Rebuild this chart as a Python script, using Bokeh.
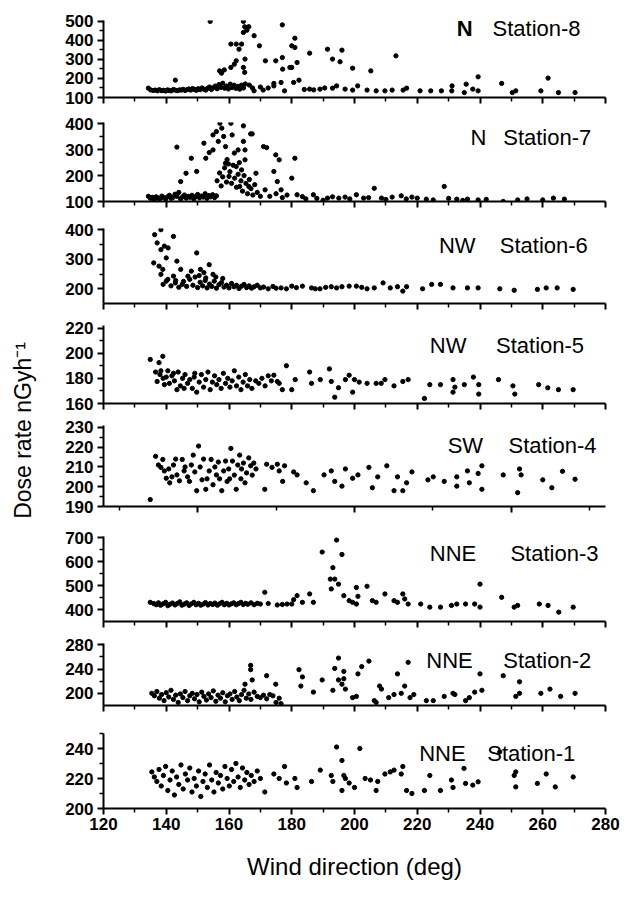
import math
from bokeh.plotting import figure
from bokeh.layouts import column, row
from bokeh.models import Range1d, Label, FixedTicker
from bokeh.embed import file_html
from bokeh.resources import INLINE

# ---------------- data (wind direction deg, dose rate nGy/h) ----------------
station8 = [(134.3,149),(135,140),(135.8,137),(136.5,139),(137.2,135),(137.8,141),(138.5,136),(139.1,138),(139.8,134),(140.4,140),
            (141,137),(141.6,135),(142.3,142),(142.9,191),(143,138),(143.6,136),(144.2,140),(144.8,139),(145.4,143),(146,137),
            (146.6,141),(147.2,145),(147.8,139),(148.4,147),(149,142),(149.6,138),(150.2,146),(150.8,141),(151.4,150),(152,144),
            (152.6,139),(153.2,148),(153.8,155),(154.4,142),(155,151),(155.6,160),(156.2,146),(156.8,168),(157.4,153),(158,175),
            (158.6,149),(159.2,160),(159.8,145),(160.4,170),(161,152),(161.6,165),(162.2,148),(162.8,158),(163.4,144),(164,165),
            (164.6,150),(165.2,171),(154,500),(157,240),(157.6,228),(158.5,245),(160.6,258),(161.7,275),(162.3,293),(160.6,381),
            (162.3,381),(164,381),(163.2,354),(164.6,500),(165,472),(165.7,454),(166.3,472),(164.6,442),(168,425),(165.1,302),
            (164.6,258),(165,232),(169.7,372),(171.6,293),(174.9,293),(177,310),(177.1,249),(177,482),(177.7,135),(176.6,179),
            (174.3,174),(180,372),(181,363),(181,412),(181.7,284),(180,258),(179.4,258),(182.3,191),(180.6,179),(185.7,333),
            (191.4,354),(196,349),(193,302),(195.4,288),(199.4,254),(205.2,240),(213.2,319),(168,135),(170.9,139),(174.3,161),
            (172.5,150),(185.7,144),(189,144),(193,149),(194.3,161),(197,144),(199.4,139),(201,161),(204,139),(206.9,135),
            (209.7,135),(212,139),(215.5,139),(216.6,149),(220.9,135),(224.3,135),(227.7,135),(231.1,161),(231,135),(235.6,170),
            (235,126),(237.7,144),(239.4,135),(239.4,209),(246.9,174),(250.3,126),(251.4,135),(259.4,135),(261.7,202),(265,126),
            (270.3,126),(166.5,165),(167.5,150),(170,155),(184,142),(187,140),(190.5,150)]

station7 = [(134.3,120),(135,112),(135.6,116),(136.2,108),(136.8,118),(137.4,113),(138,110),(138.6,121),(139.2,115),(139.8,109),
            (140.4,118),(141,124),(141.6,112),(142.2,116),(142.8,128),(143.4,120),(144,135),(144.6,110),(145.2,118),(145.8,125),
            (146.4,113),(147,120),(147.6,116),(148.2,124),(148.8,110),(149.4,119),(150,127),(150.6,114),(151.2,121),(151.8,117),
            (152.4,130),(153,112),(153.6,123),(154.2,118),(154.8,126),(155.4,115),(156,122),(143.4,310),(144.6,177),(146.3,209),
            (148,267),(149.7,216),(152,325),(152.6,267),(153.7,289),(154.9,357),(154.9,299),(156,370),(156.6,332),(157.1,402),
            (157.7,383),(158.3,351),(158.9,312),(158.9,248),(159.4,262),(160,197),(160.6,402),(161,357),(161.7,287),(162.3,235),
            (162.9,299),(163.4,158),(164,222),(164.6,332),(165.1,261),(164.6,392),(166.9,361),(167.4,361),(165.1,299),(166.3,158),
            (168.6,209),(171,312),(172,308),(174.9,280),(176,261),(174.3,216),(175.4,177),(176.6,145),(180,190),(181,267),
            (156.2,180),(157,210),(157.5,160),(158,195),(158.6,230),(159.2,175),(159.8,245),(160.3,215),(160.8,170),(161.3,240),
            (161.8,190),(162.4,155),(162.9,205),(163.3,250),(163.8,180),(164.3,140),(164.8,200),(165.4,170),(165.9,130),(166.5,185),
            (167,150),(167.6,125),(168.2,165),(169,135),(170,120),(171.5,145),(173,120),(175,130),(177,115),(178.5,125),
            (181.7,126),(183.4,119),(186.9,126),(191.4,113),(195,113),(197,117),(200.6,126),(202.9,113),(206.3,151),(208.6,113),
            (212,117),(214.9,122),(218.3,117),(222.9,109),(225.1,106),(228.6,158),(232.6,109),(236,109),(239.4,106),(247.4,100),
            (252,106),(260,106),(263.4,113),(266.9,109),(184.5,110),(188,112),(190,105),(193,118),(198.5,110),(204.5,115),
            (210,108),(216.5,110),(220,113),(230,112),(234.5,104),(242,108),(255,110)]

station6 = [(136.3,384),(138.3,401),(137.1,356),(138.3,333),(139.4,345),(140.6,339),(140,305),(142.3,378),(136,288),(137.7,277),
            (138.9,266),(138.3,249),(140,226),(142.3,243),(143.4,294),(142.9,220),(144.6,266),(145.1,215),(146.9,243),(148,260),
            (149.7,322),(150.9,266),(153.7,282),(152.6,237),(154.9,249),(139,215),(140.5,232),(141.5,210),(143,228),(144,205),
            (145.5,225),(146.5,208),(147.5,232),(148.5,212),(149.2,240),(150,204),(150.8,222),(151.6,210),(152.4,228),(153,203),
            (153.8,216),(154.5,208),(155.3,226),(156,202),(156.8,214),(157.6,221),(158.4,206),(159.2,212),(160,203),(160.8,218),
            (161.6,207),(162.4,212),(163.2,201),(164,209),(164.8,215),(165.6,204),(166.4,210),(167.2,202),(168,207),(169,212),
            (170,203),(171,206),(172.5,200),(174,208),(175,202),(150.5,245),(152,255),(155.8,240),(158,235),(176.6,203),
            (178.3,200),(180,209),(181.5,204),(183.4,209),(186.3,203),(187.5,200),(189,200),(190.8,205),(192.6,207),(194.3,203),
            (196,207),(198.3,209),(200.6,209),(202.3,205),(204,200),(206.3,203),(209.1,220),(211.4,203),(213.7,207),(215.4,192),
            (216.6,207),(221.7,200),(224.6,215),(227.4,215),(231.4,203),(236,203),(239.4,203),(246.3,200),(250.9,195),(258.3,198),
            (261.1,203),(264.6,203),(269.7,198)]

station5 = [(134.9,195),(138.9,197.5),(137.7,192.5),(136.6,185),(138.3,186),(137.1,177.5),(139.4,175),(140,181),(142.3,184),(143.4,171),
            (145.7,172),(149.1,184),(149.7,169),(138,183),(139,180),(140.5,186),(141,176),(141.8,182),(142.6,178),(143.8,185),
            (144.5,174),(145.2,180),(146,183),(146.8,176),(147.5,179),(148.3,172),(148.9,181),(150.5,177),(151.2,183),(151.9,173),
            (152.6,179),(153.3,185),(154,171),(154.7,177),(155.4,182),(156.1,175),(156.8,179),(157.5,172),(158.2,184),(158.9,176),
            (159.6,180),(160.3,173),(161,178),(161.7,186),(162.4,174),(163.1,181),(163.8,171),(164.5,177),(165.2,183),(165.9,174),
            (166.6,179),(167.3,172),(168.5,178),(169.5,176),(170.5,180),(171.5,174),(172.5,182),(173.5,178),(176,176),(177,171),
            (178.3,190),(174.3,182.5),(175.4,177.5),(180,171),(181.1,179),(185.7,185),(186.3,176),(189.1,179),(192,187.5),(192.6,177.5),
            (193.7,165),(194.9,172.5),(197.1,179),(198.3,182.5),(199.4,169),(200,179),(201.5,177),(204,176),(206.9,176),(208.5,176),
            (209.7,179),(212.6,174),(215.4,177.5),(217.1,179),(222.3,164),(224,175),(227.4,175),(231.4,179),(231.4,169),(232,173),
            (235,175),(237.9,181),(239.6,175),(239.6,167.5),(245.9,179),(250.5,174),(251.1,167.5),(258.7,175),(261.6,172.5),(265,171),
            (269.7,171)]

station4 = [(134.9,193.5),(136.6,215.4),(138.9,213.8),(138.3,209.8),(139.4,208),(140,204.3),(141.1,202),(142.3,211),(143.4,206),(145.1,213.8),
            (145.7,208),(147.4,202.7),(148.6,216),(149.1,207.5),(149.7,198),(150.3,220.6),(151.4,203.5),(152.6,198.7),(153.7,208),(154.3,213.8),
            (154.9,201),(156,206),(156.6,212.5),(157.7,198),(158.3,208),(159.4,202.7),(160.6,219.4),(161.1,213),(161.7,205.9),(162.3,198.7),
            (163.4,216),(164,209),(165.1,202),(166.3,214.6),(166.9,210.6),(167.4,205.9),(168.6,209),(137.5,211),(140.8,209),(141.8,205),
            (143,214),(144.2,203),(146,210),(146.8,205),(148,211),(150.8,210),(151.9,214),(153,204),(155.5,210),(157,204),
            (158.9,213),(159.9,209),(160.2,204),(162.8,211),(163.8,204),(164.6,212),(165.6,207),(167.9,212),(171.4,198.7),(172,211.4),
            (173.7,209.8),(175.4,211.4),(176,208),(177.1,202.7),(177.7,210.6),(180.6,207.5),(181.7,206),(184.6,202),(186.9,198),(190.3,206),
            (192.6,208),(193.7,202.7),(196,200.3),(197.1,209),(199.4,204.3),(201.1,206),(204.6,209.8),(205.7,199.5),(207.4,205),(210.3,210.6),
            (212.6,198),(213.7,205),(215.4,198),(216.6,202),(218.3,207.5),(223.4,203.5),(225.1,205),(228.6,202.7),(232.6,200.3),(232.6,205),
            (236,208),(236.6,202),(239.4,206.7),(240.6,198.7),(240.6,210.6),(247.4,206),(252,197),(252.6,209),(253.1,206),(260,203.5),
            (262.9,199.5),(266.3,207.8),(270.3,203.8)]

station3 = [(134.9,430),(136,425),(136.8,420),(137.5,428),(138.2,418),(139,424),(139.8,430),(140.5,416),(141.2,422),(142,427),
            (142.8,419),(143.5,425),(144.3,432),(145,418),(145.8,423),(146.5,428),(147.3,417),(148,424),(148.8,430),(149.5,420),
            (150.3,426),(151,418),(151.8,423),(152.5,429),(153.3,419),(154,425),(154.8,421),(155.5,427),(156.3,418),(157,424),
            (157.8,430),(158.5,420),(159.3,426),(160,419),(160.8,424),(161.5,428),(162.3,420),(163,425),(163.8,430),(164.5,421),
            (165.3,426),(166,422),(167,428),(168,420),(169,426),(170,423),(171.4,472),(172.5,425),(175.4,419),(177,421),
            (178.5,423),(180,423),(180.6,441),(181.7,458),(183.4,430),(185.7,465),(186.9,430),(189.7,640),(192.6,486),(192.3,527),
            (193.1,575),(193.7,527),(194.3,690),(194.9,506),(196,630),(196.6,458),(198.3,437),(199.4,430),(200.6,492),(201.1,455),
            (200.6,423),(204,497),(205.7,437),(206.9,430),(209.7,465),(212.6,437),(213.7,430),(215.4,465),(216,444),(217.1,423),
            (221.1,423),(224,410),(227.4,410),(230.9,417),(232.6,423),(235.4,423),(238.3,423),(240,506),(240,410),(246.9,451),
            (250.9,410),(252,417),(258.9,423),(261.7,417),(265.1,389),(269.7,410)]

station2 = [(135.4,200),(136.2,196),(137,203),(137.8,192),(138.5,198),(139.3,188),(140,201),(140.8,194),(141.5,205),(142.3,190),
            (143,197),(143.8,185),(144.5,199),(145.3,193),(146,203),(146.8,188),(147.5,196),(148.3,200),(149,191),(149.8,198),
            (150.5,186),(151.3,202),(152,195),(152.8,189),(153.5,199),(154.3,193),(155,204),(155.8,187),(156.5,197),(157.3,192),
            (158,201),(158.8,186),(159.5,196),(160.3,199),(161,190),(161.8,203),(162.5,194),(163.3,188),(164,198),(164.8,205),
            (165.5,192),(166.3,199),(167,190),(168,202),(169,195),(170,193),(171,197),(172,191),(173,198),(174,196),
            (175,185),(176,192),(166.9,246),(166.9,239),(167.4,222),(165.1,215),(172,229),(174.9,215),(176.6,183),(182.3,239),
            (183.4,227),(182.9,212),(186.9,202),(189.7,222),(193.1,205),(193.7,241),(194.9,222),(194.9,258),(196,215),(196.6,236),
            (196.6,224),(197.1,207),(199.4,193),(200.6,195),(201.1,232),(202.3,244),(204.6,253),(206.3,188),(206.9,185),(208,212),
            (208.6,207),(210.9,193),(212.6,198),(213.7,232),(214.9,200),(216,212),(217.1,251),(217.7,193),(218.9,198),(222.9,188),
            (225.1,188),(228.6,195),(231.4,200),(232,198),(235.4,188),(236.6,193),(238.3,202),(240,232),(240.6,205),(247.4,229),
            (251.4,195),(252.6,200),(252.6,219),(259.4,200),(262.3,207),(265.7,195),(270.3,200)]

station1 = [(135.4,224.4),(136.2,221),(137,218),(137.7,226),(138.4,215),(139.1,222),(139.8,228),(140.5,212),(141.2,219),(141.9,225),
            (142.6,209),(143.3,221),(144,216),(144.7,229),(145.4,213),(146.1,223),(146.8,219),(147.5,227),(148.2,211),(148.9,220),
            (149.6,215),(150.3,225),(151,208),(151.7,218),(152.4,223),(153.1,214),(153.8,229),(154.5,219),(155.2,211),(155.9,224),
            (156.6,217),(157.3,222),(158,213),(158.7,228),(159.4,220),(160.1,215),(160.8,226),(161.5,218),(162.2,230),(162.9,221),
            (163.6,214),(164.3,227),(165,219),(165.7,224),(166.4,216),(167.1,222),(168,218),(169,225),(170,220),(171.4,211),
            (174.3,223),(176,220),(177.7,228),(178.3,217),(181.7,214),(181,220),(186.3,218),(189.1,225.6),(192.6,222),(193.1,218),
            (194.3,241),(196,232),(196,212),(196.6,222),(197.1,220),(198.3,217),(200,214),(201.7,240),(203.4,220),(205.1,219),
            (206.9,212),(207.4,218),(209.7,223),(211.4,224.4),(212.6,225.6),(215.4,228),(214.9,223),(216.6,212),(218.3,210),(222.3,212),
            (224,222),(227.4,212),(230.9,219),(231.4,214),(234.9,226.7),(235.4,216.7),(237.7,215.6),(239.4,217.8),(246.3,237.8),(250.9,222),
            (251.4,224.4),(251.4,214.4),(258.3,216.7),(261.1,223),(264,214.4),(269.7,221)]

station_names = ["Station-8", "Station-7", "Station-6", "Station-5", "Station-4", "Station-3", "Station-2", "Station-1"]
directions = ["N", "N", "NW", "NW", "SW", "NNE", "NNE", "NNE"]
y_ticks = [[100, 200, 300, 400, 500], [100, 200, 300, 400], [200, 300, 400], [160, 180, 200, 220],
           [190, 200, 210, 220, 230], [400, 500, 600, 700], [200, 240, 280], [200, 220, 240]]
x_ticks = [120, 140, 160, 180, 200, 220, 240, 260, 280]
x_title = "Wind direction (deg)"
y_title = "Dose rate nGyh\u207b\u00b9"

# ---------------- layout / style ----------------
FONT = "Liberation Sans"
datasets = [station8, station7, station6, station5, station4, station3, station2, station1]
y_ranges = [(100, 505), (100, 405), (150, 405), (160, 222), (190, 231), (350, 705), (180, 282), (200, 250)]
y_minor = [[150, 250, 350, 450], [150, 250, 350], [250, 350], [170, 190, 210],
           [195, 205, 215, 225], [450, 550, 650], [220, 260], [210, 230, 250]]
frame_h = [77, 79, 75, 78, 81, 85, 62, 75]
tops = [20, 12, 13, 11, 11, 15, 11, 14]
bottoms = [13, 14, 11, 11, 15, 11, 14, 89]
label_y = [463, 347, 347, 206, 220.9, 634, 254, 237]
dir_x = [232.6, 237, 226.9, 224, 229.7, 224, 222.9, 220.6]
st_x = [244, 247.4, 246.3, 245.1, 249.1, 249.7, 247.4, 242.3]

LABW = 40
FRAME_W = 502
LEFT = 63
RIGHT = 31

figs = []
n = len(datasets)
for i in range(n):
    last = (i == n - 1)
    p = figure(frame_width=FRAME_W, frame_height=frame_h[i],
               x_range=Range1d(120, 280), y_range=Range1d(*y_ranges[i]),
               toolbar_location=None, output_backend="svg",
               min_border_left=LEFT, min_border_right=RIGHT,
               min_border_top=tops[i], min_border_bottom=bottoms[i])
    p.outline_line_color = None
    p.grid.visible = False
    p.background_fill_color = "white"
    p.border_fill_color = "white"

    xs = [d[0] for d in datasets[i]]
    ys = [d[1] for d in datasets[i]]
    p.scatter(xs, ys, marker="circle", size=4.3, color="black")

    if i == 4:
        xt = FixedTicker(ticks=[150, 200, 250], minor_ticks=[125, 175, 225, 275])
    else:
        xt = FixedTicker(ticks=x_ticks, minor_ticks=[130, 150, 170, 190, 210, 230, 250, 270])
    p.xaxis.ticker = xt
    p.yaxis.ticker = FixedTicker(ticks=y_ticks[i], minor_ticks=y_minor[i])

    for ax in (p.xaxis[0], p.yaxis[0]):
        ax.axis_line_width = 2
        ax.axis_line_color = "black"
        ax.major_tick_line_width = 2
        ax.major_tick_line_color = "black"
        ax.major_tick_out = 6
        ax.major_tick_in = 0
        ax.minor_tick_line_width = 1.5
        ax.minor_tick_line_color = "black"
        ax.minor_tick_out = 4
        ax.minor_tick_in = 0
        ax.major_label_text_font = FONT
        ax.major_label_text_font_style = "bold"
        ax.major_label_text_font_size = "17px"
        ax.major_label_text_color = "black"
    p.yaxis.major_label_standoff = 4

    if last:
        p.xaxis.major_label_standoff = 3
        p.xaxis.axis_label = x_title
        p.xaxis.axis_label_text_font = FONT
        p.xaxis.axis_label_text_font_style = "normal"
        p.xaxis.axis_label_text_font_size = "24px"
        p.xaxis.axis_label_text_color = "black"
        p.xaxis.axis_label_standoff = 20
    else:
        p.xaxis.major_label_overrides = {t: "" for t in xt.ticks}
        p.xaxis.major_label_text_font_size = "1px"
        p.xaxis.major_label_standoff = 0

    p.add_layout(Label(x=dir_x[i], y=label_y[i], text=directions[i], text_font=FONT,
                       text_font_size="22px", text_font_style="bold" if i == 0 else "normal",
                       text_align="left", text_baseline="middle", text_color="black"))
    p.add_layout(Label(x=st_x[i], y=label_y[i], text=station_names[i], text_font=FONT,
                       text_font_size="22px", text_align="left", text_baseline="middle",
                       text_color="black"))
    figs.append(p)

total_h = sum(frame_h) + sum(tops) + sum(bottoms)
lab = figure(frame_width=LABW, frame_height=total_h, x_range=Range1d(0, LABW), y_range=Range1d(0, total_h),
             toolbar_location=None, output_backend="svg", x_axis_type=None, y_axis_type=None,
             min_border_left=0, min_border_right=0, min_border_top=0, min_border_bottom=0)
lab.outline_line_color = None
lab.grid.visible = False
lab.add_layout(Label(x=22, y=total_h - 430, text=y_title, angle=math.pi / 2,
                     text_font=FONT, text_font_size="23px", text_align="center", text_baseline="middle",
                     text_color="black"))

layout = row(lab, column(*figs, spacing=0), spacing=0)
open("out.html", "w").write(file_html(layout, INLINE))
